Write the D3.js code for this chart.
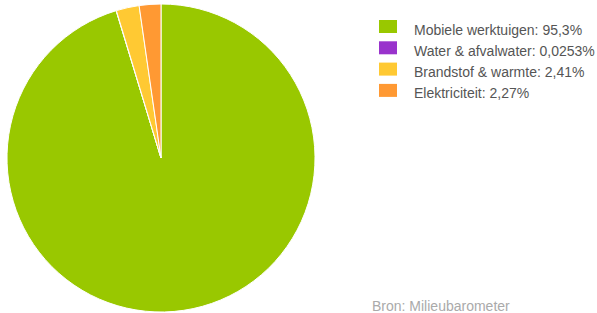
<!DOCTYPE html>
<html>
<head>
<meta charset="utf-8">
<script src="https://cdn.jsdelivr.net/npm/d3@7"></script>
<style>
  body { margin: 0; background: #fff; }
  text { font-family: "Liberation Sans", Arial, sans-serif; }
</style>
</head>
<body>
<div id="chart"></div>
<script>
// chart data
const categories = ["Mobiele werktuigen", "Water & afvalwater", "Brandstof & warmte", "Elektriciteit"];
const values = [95.3, 0.0253, 2.41, 2.27];
const labels = ["95,3%", "0,0253%", "2,41%", "2,27%"];
const colors = ["#99c800", "#9933cc", "#ffc933", "#ff9933"];
const source = "Bron: Milieubarometer";

const width = 597, height = 313;
const cx = 161, cy = 158, radius = 154;

const svg = d3.select("#chart").append("svg")
  .attr("width", width)
  .attr("height", height);

const color = d3.scaleOrdinal().domain(categories).range(colors);

const data = categories.map((c, i) => ({ name: c, value: values[i], label: labels[i] }));

const pie = d3.pie()
  .value(d => d.value)
  .sort(null);

const arc = d3.arc()
  .innerRadius(0)
  .outerRadius(radius);

const g = svg.append("g")
  .attr("transform", `translate(${cx},${cy})`);

g.selectAll("path")
  .data(pie(data))
  .join("path")
  .attr("d", arc)
  .attr("fill", d => color(d.data.name))
  .attr("stroke", "#fff")
  .attr("stroke-width", 1);

// legend
const legend = svg.append("g")
  .attr("transform", "translate(379,20)");

const row = legend.selectAll("g")
  .data(data)
  .join("g")
  .attr("transform", (d, i) => `translate(0,${i * 21.3})`);

row.append("rect")
  .attr("width", 18)
  .attr("height", 13)
  .attr("fill", d => color(d.name));

row.append("text")
  .attr("x", 35)
  .attr("y", 14.5)
  .attr("font-size", 14)
  .attr("fill", "#555")
  .text(d => `${d.name}: ${d.label}`);

svg.append("text")
  .attr("x", 372)
  .attr("y", 311)
  .attr("font-size", 14)
  .attr("fill", "#aaa")
  .text(source);
</script>
</body>
</html>
